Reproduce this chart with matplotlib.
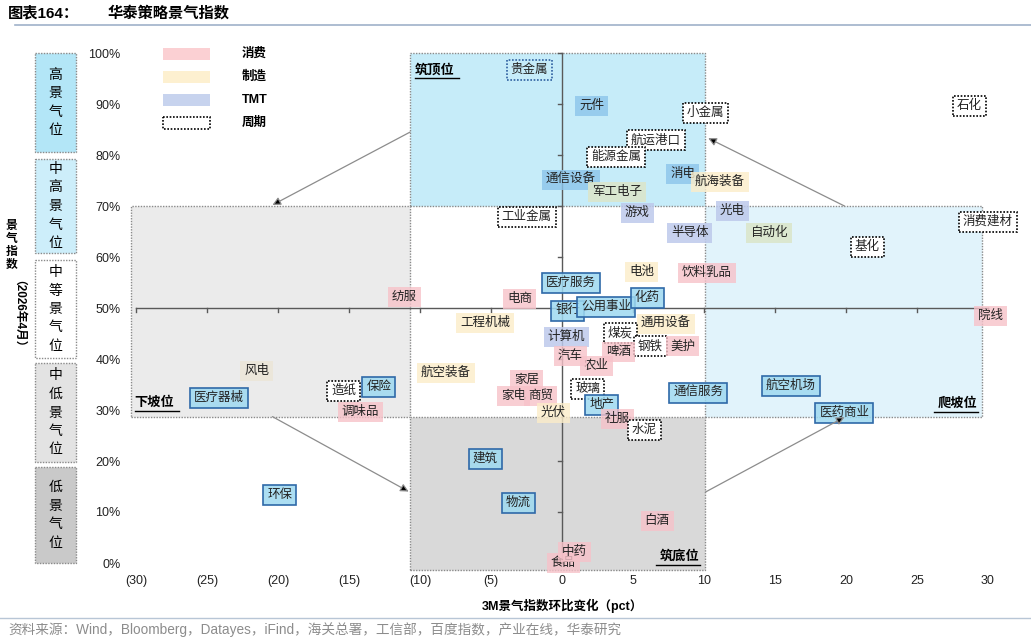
import matplotlib
matplotlib.use('Agg')
import matplotlib.pyplot as plt
from matplotlib.patches import Rectangle, FancyArrowPatch

plt.rcParams['font.family'] = ['Liberation Sans', 'Noto Sans CJK SC', 'DejaVu Sans']

# 行业名称、3M景气指数环比变化(pct)、景气指数(%)、类别
names = ['贵金属', '元件', '小金属', '航运港口', '能源金属', '通信设备', '消电', '航海装备',
         '军工电子', '游戏', '工业金属', '光电', '半导体', '石化', '自动化', '消费建材', '基化',
         '饮料乳品', '电池', '医疗服务', '纺服', '电商', '银行', '公用事业', '化药', '工程机械',
         '通用设备', '煤炭', '钢铁', '美护', '计算机', '啤酒', '农业', '汽车', '航空装备', '家居',
         '家电', '商贸', '玻璃', '通信服务', '地产', '社服', '光伏', '水泥', '建筑', '物流', '白酒',
         '食品', '中药', '风电', '医疗器械', '造纸', '保险', '调味品', '环保', '院线', '航空机场',
         '医药商业']
chg = [-2.3, 2.1, 10.1, 6.6, 3.8, 0.6, 8.5, 11.1,
       3.9, 5.3, -2.5, 12.0, 9.0, 28.7, 14.6, 30.0, 21.5,
       10.2, 5.6, 0.6, -11.1, -3.0, 0.4, 3.1, 6.0, -5.4,
       7.3, 4.1, 6.2, 8.5, 0.3, 4.0, 2.4, 0.6, -8.2, -2.5,
       -3.4, -1.5, 1.8, 9.6, 2.8, 3.9, -0.6, 5.8, -5.4, -3.1, 6.7,
       0.1, 0.9, -21.5, -24.2, -15.4, -12.9, -14.2, -19.9, 30.2, 16.1,
       19.9]
level = [96.7, 89.6, 88.2, 82.9, 79.6, 75.1, 76.3, 74.7,
         72.7, 68.6, 67.8, 69.0, 64.7, 89.6, 64.7, 66.9, 62.0,
         56.9, 57.1, 54.9, 52.2, 51.8, 49.4, 50.2, 52.0, 47.1,
         46.9, 45.1, 42.5, 42.5, 44.3, 41.4, 38.6, 40.5, 37.3, 35.9,
         32.7, 32.7, 34.1, 33.3, 31.0, 28.2, 29.4, 26.1, 20.4, 11.8, 8.2,
         0.0, 2.2, 37.6, 32.4, 33.7, 34.5, 29.6, 13.3, 48.4, 34.7,
         29.4]
group = ['周期b', '蓝', '周期', '周期', '周期', '蓝', '蓝', '制造',
         '绿', 'TMT', '周期', 'TMT', 'TMT', '周期', '绿', '周期', '周期',
         '消费', '制造', '金融', '消费', '消费', '金融', '金融', '金融', '制造',
         '制造', '周期', '周期', '消费', 'TMT', '消费', '消费', '消费', '制造', '消费',
         '消费', '消费', '周期', '金融', '金融', '消费', '制造', '周期', '金融', '金融', '消费',
         '消费', '消费', '米', '金融', '周期', '金融', '消费', '金融', '消费', '金融',
         '金融']

x_ticks = list(range(-30, 31, 5))
x_tick_labels = ['(%d)' % -v if v < 0 else str(v) for v in x_ticks]
y_ticks = list(range(0, 101, 10))
y_tick_labels = ['%d%%' % v for v in y_ticks]

legend_names = ['消费', '制造', 'TMT', '周期']
legend_colors = ['#fbd0d3', '#fdf0d0', '#c7d3ee', 'white']

zone_names = ['高景气位', '中高景气位', '中等景气位', '中低景气位', '低景气位']
zone_colors = ['#b3e6f7', '#cdeefa', 'white', '#e3e3e3', '#c9c9c9']
zone_bounds = [(53, 152), (159, 253), (260, 358), (363, 462), (467, 563)]

styles = {
    '消费': dict(fc=(0.97, 0.76, 0.79, 0.8), ec='none'),
    '制造': dict(fc=(0.99, 0.93, 0.79, 0.8), ec='none'),
    'TMT': dict(fc=(0.74, 0.79, 0.92, 0.85), ec='none'),
    '周期': dict(fc='white', ec='black', ls=(0, (1, 1)), lw=1.2),
    '周期b': dict(fc='none', ec='#2e5fa0', ls=(0, (1, 1)), lw=1.2),
    '金融': dict(fc=(0.62, 0.85, 0.94, 0.85), ec='#2f69a8', lw=1.2),
    '蓝': dict(fc=(0.55, 0.77, 0.92, 0.8), ec='none'),
    '绿': dict(fc=(0.86, 0.90, 0.80, 0.9), ec='none'),
    '米': dict(fc=(0.92, 0.90, 0.85, 0.9), ec='none'),
}

fig = plt.figure(figsize=(10.31, 6.43), dpi=100)
ax = fig.add_axes([122 / 1031, 1 - 573.2 / 643, 880 / 1031, 530.4 / 643])
ax.set_xlim(-31, 31)
ax.set_ylim(-2, 102)
for s in ax.spines.values():
    s.set_visible(False)

# 四象限区域
dot = (0, (1, 1))
ax.add_patch(Rectangle((-30.4, 28.7), 19.7, 41.3, fc='#ebebeb', ec='#8a8a8a', ls=dot, lw=1, zorder=0))
ax.add_patch(Rectangle((-10.7, 70), 20.8, 30, fc='#c6ecf9', ec='#8a8a8a', ls=dot, lw=1, zorder=0))
ax.add_patch(Rectangle((-10.7, -1.4), 20.8, 30.1, fc='#d9d9d9', ec='#8a8a8a', ls=dot, lw=1, zorder=0))
ax.add_patch(Rectangle((10.1, 28.7), 19.5, 41.3, fc='#e1f3fb', ec='#8a8a8a', ls=dot, lw=1, zorder=0))

# 坐标轴交叉于 (0, 50%)
ax.plot([-30, 30], [50, 50], color='#595959', lw=1, zorder=1)
ax.plot([0, 0], [0, 100], color='#595959', lw=1, zorder=1)
for v in x_ticks:
    ax.plot([v, v], [50, 49.3], color='#595959', lw=1, zorder=1)
for v in y_ticks:
    ax.plot([-0.25, 0], [v, v], color='#595959', lw=1, zorder=1)

ax.set_xticks(x_ticks)
ax.set_xticklabels(x_tick_labels)
ax.set_yticks(y_ticks)
ax.set_yticklabels(y_tick_labels)
ax.tick_params(length=0, labelsize=9, pad=1, colors='#222222')
ax.set_xlabel('3M景气指数环比变化（pct）', fontsize=9, fontweight='bold', labelpad=9)

# 象限名称
quad = [('筑顶位', -10.35, 96.7, 'left'), ('下坡位', -30.1, 31.4, 'left'),
        ('筑底位', 9.7, 1.2, 'right'), ('爬坡位', 29.3, 31.2, 'right')]
for t, qx, qy, ha in quad:
    ax.text(qx, qy, t, ha=ha, va='center', fontsize=9.5, fontweight='bold', zorder=3)
    w = 3.1
    x1 = qx if ha == 'left' else qx - w
    ax.plot([x1, x1 + w], [qy - 1.6, qy - 1.6], color='black', lw=1, zorder=3)

# 行业标签
for n, xv, yv, g in zip(names, chg, level, group):
    st = styles[g]
    ax.text(xv, yv, n, ha='center', va='center', fontsize=9, color='#222222', zorder=4,
            bbox=dict(boxstyle='square,pad=0.32', **st))

# 箭头
arrows = [((-10.7, 84.5), (-20.4, 70.2)), ((-20.4, 28.7), (-10.8, 14.0)),
          ((10.1, 13.9), (19.9, 28.6)), ((19.9, 70.0), (10.3, 83.3))]
for a, b in arrows:
    ax.add_patch(FancyArrowPatch(a, b, arrowstyle='-|>', mutation_scale=12, lw=0.9,
                                 ec='#8c8c8c', fc='black', zorder=5, shrinkA=0, shrinkB=0))

# 画布坐标层
ov = fig.add_axes([0, 0, 1, 1], facecolor='none', zorder=6)
ov.set_xlim(0, 1031)
ov.set_ylim(643, 0)
ov.axis('off')

ov.text(8, 13, '图表164：', fontsize=11, fontweight='bold', va='center')
ov.text(108, 13, '华泰策略景气指数', fontsize=11, fontweight='bold', va='center')
ov.plot([15, 1031], [25, 25], color='#9fb2c9', lw=1.2)
ov.plot([0, 1031], [618, 618], color='#b8c6d6', lw=1)
ov.text(8, 630, '资料来源：Wind，Bloomberg，Datayes，iFind，海关总署，工信部，百度指数，产业在线，华泰研究',
        fontsize=9.8, color='#8c8c8c', va='center')

# 图例
for i, (ln, lc) in enumerate(zip(legend_names, legend_colors)):
    y = 48 + i * 23
    if ln == '周期':
        ov.add_patch(Rectangle((163, y), 47, 12, fc='white', ec='black', ls=dot, lw=1.2))
    else:
        ov.add_patch(Rectangle((163, y), 47, 12, fc=lc, ec='none'))
    ov.text(242, y + 6, ln, fontsize=9, fontweight='bold', va='center')

# 左侧景气分档
for zn, zc, (y0, y1) in zip(zone_names, zone_colors, zone_bounds):
    ov.add_patch(Rectangle((35, y0), 41, y1 - y0, fc=zc, ec='#8a8a8a', ls=dot, lw=1))
    k = len(zn)
    step = 18.5
    mid = (y0 + y1) / 2
    for j, ch in enumerate(zn):
        ov.text(55.5, mid + (j - (k - 1) / 2) * step, ch, fontsize=10, ha='center', va='center')

# 纵轴标题
for j, ch in enumerate('景气指数'):
    ov.text(12, 226 + j * 13, ch, fontsize=8.5, fontweight='bold', ha='center', va='center')
ov.text(12, 320, '（2026年4月）', fontsize=8.5, fontweight='bold', ha='center', va='center',
        rotation=-90)

fig.savefig('out.png', dpi=100)
plt.close(fig)
